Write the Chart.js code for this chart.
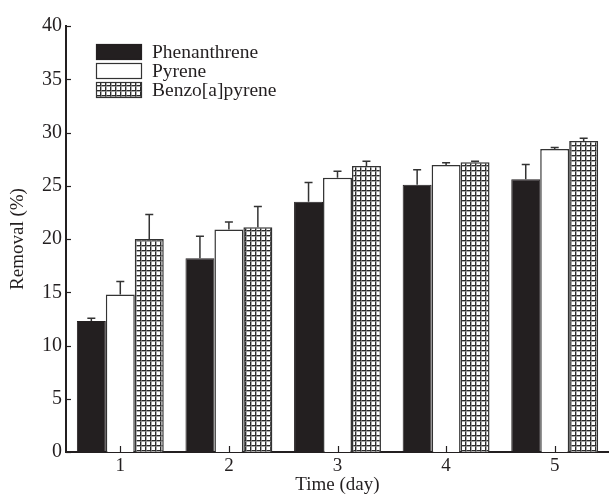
<!DOCTYPE html>
<html>
<head>
<meta charset="utf-8">
<script src="https://cdn.jsdelivr.net/npm/chart.js@4/dist/chart.umd.min.js"></script>
<style>
  html, body { margin: 0; padding: 0; background: #fff; }
  #wrap { width: 609px; height: 496px; }
</style>
</head>
<body>
<div id="wrap"><canvas id="removalChart" width="609" height="496"></canvas></div>
<script>
const days = ['1', '2', '3', '4', '5'];
const seriesNames = ['Phenanthrene', 'Pyrene', 'Benzo[a]pyrene'];
const phenanthrene = [12.3, 18.2, 23.5, 25.1, 25.6];
const pyrene = [14.8, 20.9, 25.75, 26.95, 28.45];
const benzoPyrene = [20.0, 21.1, 26.85, 27.2, 29.2];
// upper error bars only
const phenanthreneErr = [0.25, 2.05, 1.8, 1.4, 1.4];
const pyreneErr = [1.2, 0.7, 0.6, 0.2, 0.15];
const benzoPyreneErr = [2.3, 1.95, 0.45, 0.1, 0.25];
const yTicks = [0, 5, 10, 15, 20, 25, 30, 35, 40];

const serif = '"Liberation Serif", "Times New Roman", serif';
const ink = '#231f20';

function gridPattern() {
    const c = document.createElement('canvas');
    c.width = 5; c.height = 5;
    const g = c.getContext('2d');
    g.fillStyle = '#fff';
    g.fillRect(0, 0, 5, 5);
    g.fillStyle = '#2b2b2b';
    g.fillRect(0, 0, 5, 1);
    g.fillRect(0, 0, 1, 5);
    g.fillStyle = '#888';
    g.fillRect(0, 1, 5, 0.7);
    g.fillRect(1, 0, 0.7, 5);
    return g.createPattern(c, 'repeat');
}

const errorBars = {
    id: 'errorBars',
    afterDatasetsDraw(chart) {
        const ctx = chart.ctx;
        const y = chart.scales.y;
        ctx.save();
        ctx.strokeStyle = '#333';
        ctx.lineWidth = 1.5;
        chart.data.datasets.forEach((ds, i) => {
            const meta = chart.getDatasetMeta(i);
            meta.data.forEach((bar, j) => {
                const top = y.getPixelForValue(ds.data[j] + ds.errUp[j]);
                ctx.beginPath();
                ctx.moveTo(bar.x, bar.y);
                ctx.lineTo(bar.x, top);
                ctx.moveTo(bar.x - 4, top);
                ctx.lineTo(bar.x + 4, top);
                ctx.stroke();
            });
        });
        ctx.restore();
    }
};

const innerTicks = {
    id: 'innerTicks',
    afterDraw(chart) {
        const ctx = chart.ctx;
        const { x, y } = chart.scales;
        const area = chart.chartArea;
        ctx.save();
        ctx.strokeStyle = ink;
        ctx.lineWidth = 1.2;
        yTicks.forEach(v => {
            const py = Math.round(y.getPixelForValue(v)) + 0.5;
            ctx.beginPath();
            ctx.moveTo(area.left, py);
            ctx.lineTo(area.left + 5, py);
            ctx.stroke();
        });
        days.forEach((d, i) => {
            const px = Math.round(x.getPixelForValue(i)) + 0.5;
            ctx.beginPath();
            ctx.moveTo(px, area.bottom);
            ctx.lineTo(px, area.bottom - 6);
            ctx.stroke();
        });

        // legend inside the plot
        const lx = area.left + 30, ly = area.top + 18;
        ctx.font = '19.5px ' + serif;
        ctx.textBaseline = 'middle';
        chart.data.datasets.forEach((ds, i) => {
            const by = ly + i * 19;
            ctx.fillStyle = ds.backgroundColor;
            ctx.fillRect(lx, by, 46, 16);
            ctx.strokeStyle = ds.borderColor;
            ctx.lineWidth = 1.2;
            ctx.strokeRect(lx + 0.5, by + 0.5, 45, 15);
            ctx.fillStyle = ink;
            ctx.fillText(ds.label, lx + 56, by + 9);
        });
        ctx.restore();
    }
};

const canvas = document.getElementById('removalChart');
const pattern = gridPattern();

new Chart(canvas, {
    type: 'bar',
    data: {
        labels: days,
        datasets: [{
            label: seriesNames[0],
            data: phenanthrene,
            errUp: phenanthreneErr,
            backgroundColor: ink,
            borderColor: ink,
            borderWidth: 1
        }, {
            label: seriesNames[1],
            data: pyrene,
            errUp: pyreneErr,
            backgroundColor: '#fff',
            borderColor: '#333',
            borderWidth: 1.5
        }, {
            label: seriesNames[2],
            data: benzoPyrene,
            errUp: benzoPyreneErr,
            backgroundColor: pattern,
            borderColor: '#333',
            borderWidth: 1.5
        }]
    },
    options: {
        responsive: false,
        animation: false,
        layout: { padding: { top: 26, right: 0, left: 0, bottom: 0 } },
        datasets: {
            bar: {
                categoryPercentage: 0.8,
                barPercentage: 1,
                borderSkipped: 'bottom'
            }
        },
        plugins: {
            legend: { display: false },
            tooltip: { enabled: false }
        },
        scales: {
            x: {
                afterFit: axis => { axis.height = 44; },
                grid: { display: false, drawTicks: false },
                border: { display: true, color: ink, width: 2 },
                ticks: { color: ink, font: { family: serif, size: 19 }, padding: 3 },
                title: {
                    display: true,
                    text: 'Time (day)',
                    color: ink,
                    font: { family: serif, size: 19 },
                    padding: { top: 0, bottom: 0 }
                }
            },
            y: {
                min: 0,
                max: 40,
                afterFit: axis => { axis.width = 66; },
                grid: { display: false, drawTicks: false },
                border: { display: true, color: ink, width: 2 },
                afterBuildTicks: axis => {
                    axis.ticks = yTicks.map(v => ({ value: v }));
                },
                ticks: { color: ink, font: { family: serif, size: 20 }, padding: 4 },
                title: {
                    display: true,
                    text: 'Removal (%)',
                    color: ink,
                    font: { family: serif, size: 19 },
                    padding: { top: 7, bottom: 0 }
                }
            }
        }
    },
    plugins: [errorBars, innerTicks]
});
</script>
</body>
</html>
